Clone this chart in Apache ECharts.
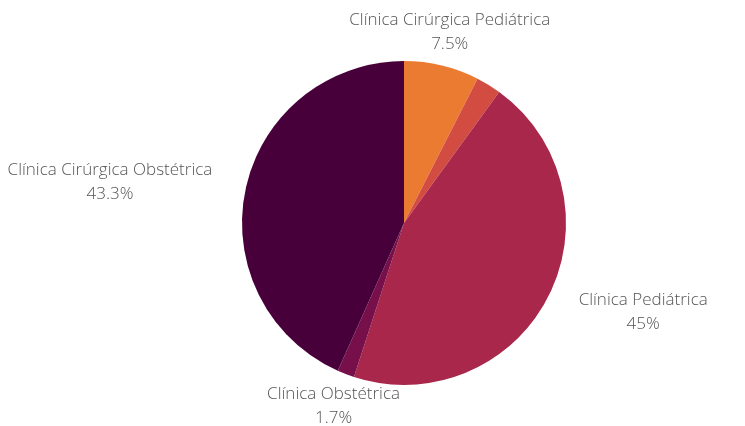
<!DOCTYPE html>
<html>
<head>
<meta charset="utf-8">
<script src="https://cdn.jsdelivr.net/npm/echarts@6/dist/echarts.min.js"></script>
<style>html,body{margin:0;padding:0;background:#fff}#c{width:745px;height:426px}</style>
</head>
<body>
<div id="c"></div>
<script>
var categories = ["Clínica Cirúrgica Pediátrica", "Outros", "Clínica Pediátrica", "Clínica Obstétrica", "Clínica Cirúrgica Obstétrica"];
var values = [7.5, 2.5, 45, 1.7, 43.3];
var showLabel = [true, false, true, true, true];
var colors = ["#EC7B32", "#D24C41", "#A8274B", "#77104A", "#48003A"];

var chart = echarts.init(document.getElementById('c'), null, {renderer: 'canvas'});
var cx = 404, cy = 223, R = 162, GAP = 34;
var total = values.reduce(function (a, b) { return a + b; }, 0);
var data = categories.map(function (n, i) {
  return {
    name: n, value: values[i],
    itemStyle: {color: colors[i]},
    label: {show: showLabel[i]}
  };
});
chart.setOption({
  animation: false,
  series: [{
    type: 'pie',
    center: [cx, cy],
    radius: [0, R],
    startAngle: 90,
    clockwise: true,
    avoidLabelOverlap: false,
    data: data,
    label: {
      show: true,
      position: 'outside',
      formatter: function (p) { return p.name + '\n' + p.value + '%'; },
      fontFamily: 'Open Sans',
      fontWeight: 300,
      fontSize: 17,
      lineHeight: 24,
      color: '#555555'
    },
    labelLine: {show: false},
    emphasis: {disabled: true},
    labelLayout: function (p) {
      var i = p.dataIndex;
      var before = 0;
      for (var k = 0; k < i; k++) before += values[k];
      var mid = (before + values[i] / 2) / total * Math.PI * 2;
      var ux = Math.sin(mid), uy = -Math.cos(mid);
      var ax = cx + ux * (R + GAP), ay = cy + uy * (R + GAP);
      var w = p.labelRect ? p.labelRect.width : 0;
      var x = ax;
      if (Math.abs(ux) >= 0.5) x = ax + (ux > 0 ? w / 2 : -w / 2);
      return {x: x, y: ay, align: 'center', verticalAlign: 'middle'};
    }
  }]
});
</script>
</body>
</html>
